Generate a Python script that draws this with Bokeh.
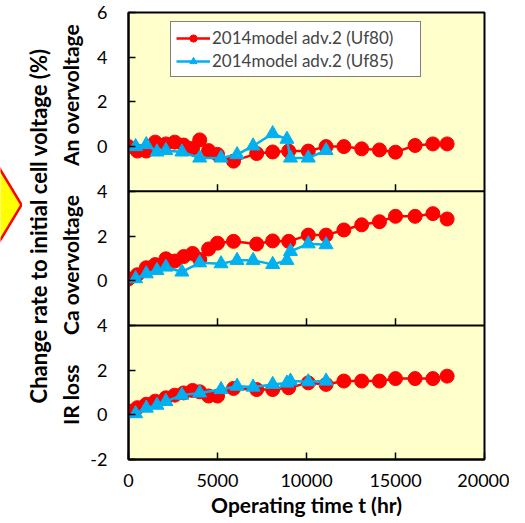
from bokeh.plotting import figure
from bokeh.layouts import row
from bokeh.models import (Range1d, FixedTicker, Legend, LegendItem, Span, LinearAxis)
from bokeh.embed import file_html
from bokeh.resources import INLINE

# ---------------- data ----------------
hours_uf80 = [0, 500, 1000, 1500, 2100, 2600, 3100, 3600, 4000, 4500, 5000, 5900,
              7200, 8100, 9000, 10100, 11100, 12100, 13100, 14100, 15000, 16100,
              17100, 17900]
an_uf80 = [0.0, -0.2, -0.2, 0.2, 0.12, 0.2, 0.07, -0.08, 0.3, -0.18, -0.35, -0.65,
           -0.31, -0.24, -0.2, -0.2, 0.0, 0.0, -0.1, -0.15, -0.25, 0.05, 0.12, 0.12]
ca_uf80 = [0.08, 0.27, 0.58, 0.72, 0.98, 0.88, 1.08, 1.22, 0.95, 1.42, 1.68, 1.76,
           1.64, 1.78, 1.76, 2.04, 2.04, 2.27, 2.5, 2.64, 2.88, 2.88, 3.0, 2.76]
ir_uf80 = [0.17, 0.32, 0.47, 0.61, 0.76, 0.88, 0.98, 1.09, 1.03, 0.84, 0.84, 1.18,
           1.13, 1.13, 1.21, 1.43, 1.36, 1.51, 1.51, 1.51, 1.62, 1.62, 1.62, 1.73]

hours_uf85 = [400, 1000, 1600, 2100, 3000, 4000, 5200, 6100, 7000, 8100, 8900, 9100,
              10100, 11100]
an_uf85 = [0.0, 0.09, -0.24, -0.17, -0.24, -0.51, -0.51, -0.36, 0.03, 0.58, 0.33,
           -0.51, -0.51, -0.17]
ca_uf85 = [0.09, 0.31, 0.46, 0.61, 0.39, 0.8, 0.76, 0.91, 0.91, 0.73, 0.91, 1.31,
           1.65, 1.61]
ir_uf85 = [0.05, 0.3, 0.43, 0.6, 0.88, 0.98, 1.13, 1.28, 1.24, 1.36, 1.42, 1.51,
           1.48, 1.51]

series_names = ["2014model adv.2 (Uf80)", "2014model adv.2 (Uf85)"]
panel_names = ["IR loss", "Ca overvoltage", "An overvoltage"]   # bottom -> top
panel_offsets = [0, 6, 12]          # stacked panels on one shared axis
panel_label_pos = [0.9, 6.7, 14.3]
y_title = "Change rate to initial cell voltage (%)"
y_title_pos = 8.45
x_title = "Operating time t (hr)"
y_tick_positions = [-2, 0, 2, 4, 6, 8, 10, 12, 14, 16, 18]
y_tick_labels = ["-2", "0", "2", "4", "0", "2", "4", "0", "2", "4", "6"]
x_ticks = [0, 5000, 10000, 15000, 20000]

RED = "#FF0000"
BLUE = "#00B0F0"
FONT = "Lato"
H = 520
DW = 22

y_rng = Range1d(-2, 18)

# ---------------- decorative arrow piece on the far left ----------------
d = figure(width=DW, height=H, output_backend="svg", toolbar_location=None,
           x_range=Range1d(0, DW), y_range=y_rng,
           x_axis_type=None, y_axis_type=None, min_border=0)
d.outline_line_color = None
d.background_fill_color = "white"
d.border_fill_color = "white"
d.xgrid.visible = False
d.ygrid.visible = False
d.patch(x=[21, -31, -83, -31], y=[9.39, 13.25, 9.39, 5.53], fill_color="#FFFF00",
        line_color="#FF0000", line_width=2.5)

# ---------------- main chart ----------------
p = figure(width=509 - DW, height=H, output_backend="svg", toolbar_location=None,
           x_range=Range1d(0, 20000), y_range=y_rng,
           min_border_left=100, min_border_right=25, min_border_top=12,
           min_border_bottom=61)
p.background_fill_color = "#FFFFCC"
p.border_fill_color = "white"
p.outline_line_color = "black"
p.outline_line_width = 2
p.xgrid.visible = False
p.ygrid.visible = False

# x axis
p.xaxis.ticker = FixedTicker(ticks=x_ticks)
p.xaxis.major_tick_in = 7
p.xaxis.major_tick_out = 0
p.xaxis.minor_tick_line_color = None
p.xaxis.axis_line_width = 2
p.xaxis.major_tick_line_width = 1.5
p.xaxis.major_label_text_font = FONT
p.xaxis.major_label_text_font_size = "18px"
p.xaxis.major_label_text_color = "black"
p.xaxis.major_label_standoff = 14
p.xaxis.axis_label = x_title
p.xaxis.axis_label_text_font = FONT
p.xaxis.axis_label_text_font_style = "bold"
p.xaxis.axis_label_text_font_size = "21px"
p.xaxis.axis_label_text_color = "black"
p.xaxis.axis_label_standoff = 2

# main y axis (tick values)
p.yaxis.ticker = FixedTicker(ticks=y_tick_positions)
p.yaxis.major_label_overrides = {t: l for t, l in zip(y_tick_positions, y_tick_labels)}
p.yaxis.major_tick_in = 7
p.yaxis.major_tick_out = 0
p.yaxis.minor_tick_line_color = None
p.yaxis.axis_line_width = 2
p.yaxis.major_tick_line_width = 1.5
p.yaxis.major_label_text_font = FONT
p.yaxis.major_label_text_font_size = "18px"
p.yaxis.major_label_text_color = "black"
p.yaxis.major_label_standoff = 21


def label_axis(positions, labels, standoff, size):
    ax = LinearAxis(ticker=FixedTicker(ticks=positions),
                    major_label_overrides={t: l for t, l in zip(positions, labels)},
                    major_label_orientation="vertical",
                    major_tick_line_color=None, minor_tick_line_color=None,
                    axis_line_color=None, major_tick_in=0, major_tick_out=0,
                    major_label_standoff=standoff,
                    major_label_text_font=FONT,
                    major_label_text_font_style="bold",
                    major_label_text_font_size=size,
                    major_label_text_color="black")
    p.add_layout(ax, "left")
    return ax


label_axis(panel_label_pos, panel_names, 4, "21px")     # panel names
label_axis([y_title_pos], [y_title], 3, "22px")          # overall title

# panel dividers and their inward ticks
inner_ticks = x_ticks[1:-1]
for off in panel_offsets[1:]:
    p.add_layout(Span(location=off - 2, dimension="width", line_color="black",
                      line_width=2))
    p.segment(x0=inner_ticks, x1=inner_ticks, y0=[off - 2] * len(inner_ticks),
              y1=[off - 2 + 0.32] * len(inner_ticks), line_color="black",
              line_width=1.5)

# data
red_items, blue_items = [], []
for off, (r_vals, b_vals) in zip(panel_offsets, [(ir_uf80, ir_uf85),
                                                 (ca_uf80, ca_uf85),
                                                 (an_uf80, an_uf85)]):
    ry = [v + off for v in r_vals]
    by = [v + off for v in b_vals]
    rl = p.line(hours_uf80, ry, line_color=RED, line_width=2.5)
    rs = p.scatter(hours_uf80, ry, marker="circle", size=14, fill_color=RED,
                   line_color=RED)
    bl = p.line(hours_uf85, by, line_color=BLUE, line_width=2.5)
    bs = p.scatter(hours_uf85, by, marker="triangle", size=14, fill_color=BLUE,
                   line_color=BLUE)
    if off == panel_offsets[0]:
        red_items = [rl, rs]
        blue_items = [bl, bs]

legend = Legend(items=[LegendItem(label=series_names[0], renderers=red_items),
                       LegendItem(label=series_names[1], renderers=blue_items)],
                location=(42, 382), orientation="vertical",
                glyph_width=34, glyph_height=18, label_height=18,
                label_width=203,
                label_standoff=2, spacing=2, padding=5, margin=0,
                label_text_font=FONT, label_text_font_size="17px",
                border_line_color="black", border_line_width=1.2,
                background_fill_color="white", background_fill_alpha=1)
p.add_layout(legend)

layout = row(d, p, spacing=0)
open("out.html", "w").write(file_html(layout, INLINE))
